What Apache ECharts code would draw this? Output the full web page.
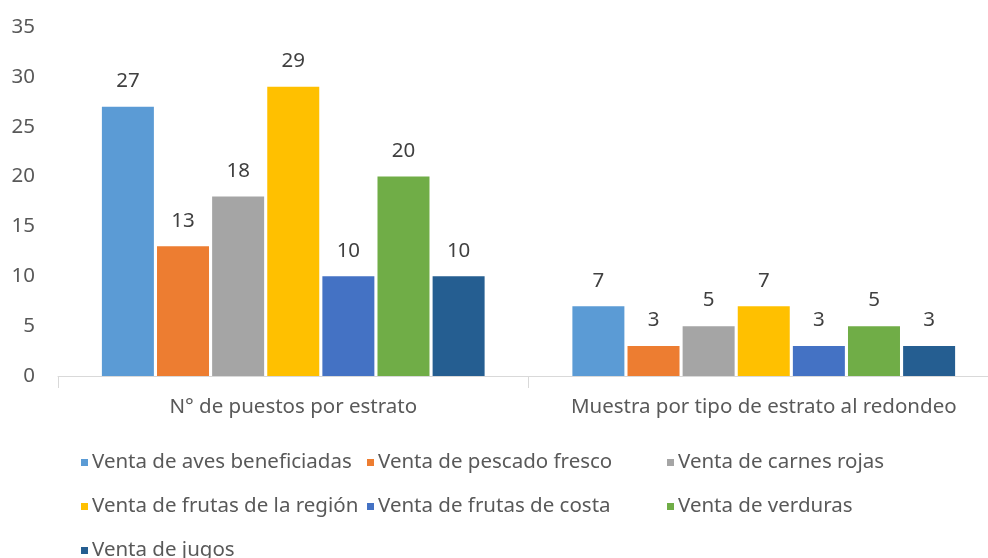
<!DOCTYPE html>
<html>
<head>
<meta charset="utf-8">
<script src="https://cdn.jsdelivr.net/npm/echarts@6/dist/echarts.min.js"></script>
<style>
  html, body { margin: 0; padding: 0; background: #fff; overflow: hidden; }
  #main { width: 999px; height: 600px; }
</style>
</head>
<body>
<div id="main"></div>
<script>
// categorias del eje x
const categories = ['N° de puestos por estrato', 'Muestra por tipo de estrato al redondeo']
// nombres de las series
const seriesNames = [
  'Venta de aves beneficiadas',
  'Venta de pescado fresco',
  'Venta de carnes rojas',
  'Venta de frutas de la región',
  'Venta de frutas de costa',
  'Venta de verduras',
  'Venta de jugos'
]
// valores por serie (puestos, muestra)
const aves = [27, 7]
const pescado = [13, 3]
const carnes = [18, 5]
const frutasRegion = [29, 7]
const frutasCosta = [10, 3]
const verduras = [20, 5]
const jugos = [10, 3]
const yTicks = [0, 5, 10, 15, 20, 25, 30, 35]

const values = [aves, pescado, carnes, frutasRegion, frutasCosta, verduras, jugos]
const colors = ['#5B9BD5', '#ED7D31', '#A5A5A5', '#FFC000', '#4472C4', '#70AD47', '#255E91']
const font = "'Noto Sans', sans-serif"
const fs = 20.5

const chart = echarts.init(document.getElementById('main'))

const legendStyle = {
  orient: 'vertical',
  top: 447,
  itemWidth: 7,
  itemHeight: 7,
  itemGap: 23,
  icon: 'rect',
  textStyle: { color: '#595959', fontSize: fs, fontFamily: font, padding: [0, 0, 0, -1] }
}

const option = {
  animation: false,
  color: colors,
  // el contenedor es mas grande que la ventana (el eje sigue a la derecha y la leyenda abajo)
  grid: { left: 58, right: 0, top: 27, bottom: 224 },
  legend: [
    // columnas de la leyenda
    Object.assign({ left: 76, data: [seriesNames[0], seriesNames[3], seriesNames[6]] }, legendStyle),
    Object.assign({ left: 362, data: [seriesNames[1], seriesNames[4]] }, legendStyle),
    Object.assign({ left: 662, data: [seriesNames[2], seriesNames[5]] }, legendStyle)
  ],
  xAxis: {
    type: 'category',
    data: categories,
    axisLine: { lineStyle: { color: '#D9D9D9', width: 1 } },
    axisTick: { show: true, length: 12, lineStyle: { color: '#D9D9D9' } },
    axisLabel: { color: '#595959', fontSize: fs, fontFamily: font, margin: 21, interval: 0 }
  },
  yAxis: {
    type: 'value',
    min: yTicks[0],
    max: yTicks[yTicks.length - 1],
    interval: 5,
    axisLine: { show: false },
    axisTick: { show: false },
    splitLine: { show: false },
    axisLabel: { color: '#595959', fontSize: fs, fontFamily: font, margin: 23 }
  },
  series: seriesNames.map((name, i) => ({
    name: name,
    type: 'bar',
    data: values[i],
    barWidth: 52,
    barGap: '6%',
    label: {
      show: true,
      position: 'top',
      distance: 15,
      color: '#404040',
      fontSize: fs,
      fontFamily: font
    }
  }))
}

chart.setOption(option)
</script>
</body>
</html>
